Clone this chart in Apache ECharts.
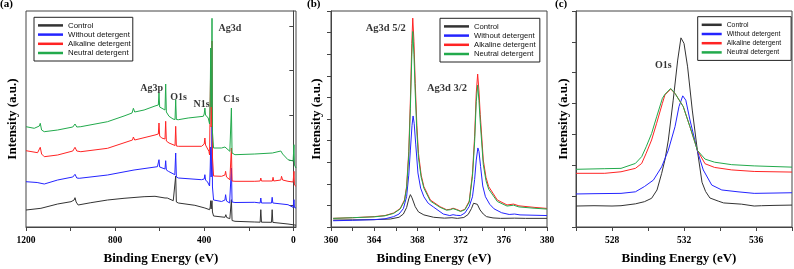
<!DOCTYPE html>
<html>
<head>
<meta charset="utf-8">
<script src="https://cdn.jsdelivr.net/npm/echarts@6/dist/echarts.min.js"></script>
<style>html,body{margin:0;padding:0;background:#fff}#c{width:794px;height:269px}</style>
</head>
<body>
<div id="c"></div>
<script>
// ---------- legend / series names ----------
const seriesNames = ['Control', 'Without detergent', 'Alkaline detergent', 'Neutral detergent'];
const seriesColors = ['#333333', '#2424ff', '#ff2424', '#22aa4c'];

// ---------- panel (a): survey spectra [binding energy eV, intensity a.u.] ----------
const surveyControl = [[1200,17],[1133,18.7],[1058,23],[998,25.3],[984,27],[980,29.3],[975,25],[966,22],[909,24.3],[834,27],[760,28.7],[670,30.3],[621,30.7],[576,29],[570,29.7],[566,29],[539,26.3],[531,25.5],[528,51],[525,25],[516,24],[442,21.7],[397,19],[376,17.3],[373,20],[371,26.3],[369,18],[367,20],[365,26.3],[363,15],[358,11],[355,10.7],[307,9.7],[303,12.3],[299,9.5],[285,8.3],[281,8],[278,27.3],[275,6.5],[262,5.7],[173,5],[149,4.8],[146,17.3],[143,4.8],[98,4.7],[95,17.3],[92,4.6],[24,3],[-12,1.8]];
const surveyWithout = [[1200,45.3],[1150,44.5],[1118,43],[1058,47],[990,50],[980,52.7],[972,49],[961,48.7],[834,52],[715,57],[610,60.3],[606,61],[603,67.3],[600,60],[594,59],[576,58],[573,66.3],[570,57],[561,55.7],[532,52.3],[531,52],[528,74],[525,50],[516,49],[412,47.3],[400,48],[397,52.3],[394,47],[385,45],[376,41],[373,60],[371,80],[369,50],[367,60],[365,101],[363,40],[358,27],[355,26],[322,25.5],[307,27],[304,32.3],[300,26],[286,24],[281,24],[278,59],[275,25],[262,24.5],[173,24.7],[149,24],[146,29],[143,24],[98,24],[95,29.7],[92,24],[24,22.3],[1,19.7],[-3,27.3],[-5,19.5],[-12,19]];
const surveyAlkaline = [[1200,76.3],[1148,74.3],[1140,76],[1136,79.7],[1130,73],[1118,70.3],[1058,72],[990,76],[980,79.7],[972,76],[954,75.3],[834,78.7],[722,87],[718,90],[712,87],[621,92],[606,93],[603,104],[600,91],[591,89],[576,88],[573,105.7],[570,86],[558,84],[531,81.5],[528,100.7],[525,81],[516,80.7],[412,80.7],[400,83],[397,89],[394,82],[379,75.7],[376,72],[373,130],[371,160],[369,100],[367,110],[365,186],[363,70],[358,51],[355,49],[322,50.7],[307,52],[304,55.7],[300,50],[285,47.3],[281,47],[278,79],[275,46],[262,45.7],[173,45.7],[149,46],[146,49],[143,46],[94,46],[91,49.7],[88,46],[56,47],[53,50.7],[48,47],[24,45.7],[1,45],[-3,55.7],[-5,42],[-12,40.7]];
const surveyNeutral = [[1200,100.3],[1163,98.7],[1140,101],[1136,103.7],[1130,97],[1118,95.3],[1058,97],[990,100],[980,103],[972,100],[954,100.3],[834,105.3],[760,111],[724,114],[718,118.7],[712,115],[670,117],[621,121],[606,122],[603,134],[600,120],[594,119],[576,117],[573,143],[570,115],[558,110.7],[540,108],[531,107.5],[528,127.3],[525,107.5],[516,107.3],[472,109],[404,110.7],[400,113],[397,119],[394,112],[382,109],[376,103],[373,130],[371,179],[369,120],[367,130],[365,208.7],[363,95],[358,79],[355,77.3],[322,79],[307,80],[304,81.3],[300,78],[285,75.7],[281,75.5],[278,119],[275,74],[262,72.3],[173,73],[94,74],[91,75],[88,74],[56,76],[53,77.3],[48,73],[24,67.3],[1,66],[-3,82.3],[-5,62],[-12,59]];

// ---------- panel (b): Ag3d ----------
const agControl = [[360.2,3.2],[362,3.3],[364,3.4],[365.5,3.7],[366.3,4.5],[366.7,6.0],[367.0,9.0],[367.2,13.0],[367.35,15.0],[367.5,13.5],[367.8,9.4],[368.1,7.0],[368.6,5.6],[369.5,4.5],[370.5,4.1],[371.2,4.3],[371.7,4.0],[372.3,4.4],[372.7,5.8],[373.0,8.5],[373.2,11.0],[373.35,11.8],[373.55,10.5],[373.8,7.9],[374.1,6.0],[374.4,4.8],[375.0,4.2],[375.7,4.0],[377,4.1],[378,4.0],[380,4.0]];
const agWithout = [[360.2,2.9],[362,3.1],[364,3.4],[365,3.8],[365.8,4.8],[366.3,6.0],[366.7,8.5],[367.0,14.0],[367.2,24],[367.35,35.6],[367.5,47],[367.6,51.4],[367.7,48],[367.85,38],[368.05,25],[368.3,18],[368.6,14],[369.0,11],[369.5,9.2],[370.4,6.0],[371.0,5.3],[371.3,5.7],[371.6,5.4],[372.0,5.3],[372.4,6.5],[372.8,9.5],[373.1,14],[373.3,22],[373.45,31],[373.6,36.6],[373.7,35],[373.85,28],[374.05,19],[374.3,14],[374.7,10.5],[375.1,8.4],[375.8,6.6],[376.5,5.8],[377,6.0],[377.5,5.6],[380,5.3]];
const agAlkaline = [[360.2,4.0],[362,4.3],[364,4.8],[365,5.3],[365.8,6.5],[366.4,8.5],[366.8,12.5],[367.0,18.7],[367.2,35],[367.35,58.8],[367.48,85],[367.57,96.7],[367.68,86],[367.8,66.5],[367.95,47],[368.1,34.1],[368.35,24],[368.6,18.7],[369.2,12.5],[370.1,9.4],[370.7,8.0],[371.05,8.2],[371.3,8.7],[371.6,8.2],[372.0,7.4],[372.4,8.2],[372.8,12],[373.1,24.8],[373.3,42],[373.45,62],[373.58,70.8],[373.7,63],[373.82,52],[374.1,31],[374.35,23],[374.6,18.7],[375.4,12.5],[376.3,10.2],[376.9,10.6],[377.4,9.8],[378.8,9.1],[380,8.6]];
const agNeutral = [[360.2,4.0],[362,4.3],[364,4.7],[365,5.2],[365.8,6.3],[366.4,8.3],[366.8,12],[367.0,18],[367.2,33],[367.35,55],[367.48,79],[367.57,90.5],[367.68,80],[367.8,62],[367.95,44],[368.1,32],[368.35,23],[368.6,18],[369.2,12],[370.1,9.1],[370.7,7.8],[371.05,8.0],[371.3,8.5],[371.6,8.0],[372.0,7.2],[372.4,8.0],[372.8,11.5],[373.1,23.5],[373.3,39.5],[373.45,58],[373.58,65.7],[373.7,58.5],[373.82,48.5],[374.1,29],[374.35,21.5],[374.6,17.5],[375.4,11.8],[376.3,9.7],[376.9,10.1],[377.4,9.3],[378.8,8.7],[380,8.3]];

// ---------- panel (c): O1s ----------
const o1sControl = [[526.0,6.8],[527,6.9],[528,6.8],[528.5,6.9],[529.3,7.5],[529.8,8.2],[530.2,9.3],[530.5,12],[530.76,17.4],[530.95,22],[531.13,28.2],[531.4,41.1],[531.65,54.1],[531.83,61.3],[532.0,59.5],[532.2,51.9],[532.46,37.9],[532.75,24.5],[533.0,14.5],[533.2,11.5],[533.44,9.4],[533.9,8.4],[534.2,7.8],[535.2,7.4],[535.9,6.8],[536.3,6.9],[537,7.0],[538,7.1]];
const o1sWithout = [[526,10.7],[527,10.8],[528.5,10.9],[529.3,11.4],[529.8,13.1],[530.3,15.2],[530.76,19.5],[531.13,24.9],[531.5,32.5],[531.72,39],[531.93,42.5],[532.1,41.1],[532.33,34.7],[532.75,24.5],[533.07,18.5],[533.54,13.6],[534.1,12.0],[535.0,11.4],[535.9,10.9],[537,11.0],[538,11.1]];
const o1sAlkaline = [[526,17.4],[527.6,17.4],[528.5,17.9],[529.3,19],[529.65,20.6],[529.9,23.9],[530.2,28.2],[530.48,33.6],[530.8,40.1],[530.94,42.8],[531.26,44.7],[531.5,43.3],[531.96,39],[532.33,32.5],[532.75,24.8],[533.17,20.5],[533.7,19.3],[534.65,18.5],[535.9,18.0],[538,17.8]];
const o1sNeutral = [[526,18.7],[527.6,18.9],[528.5,19.0],[529.3,20.6],[529.65,22.8],[529.9,26],[530.2,30.3],[530.48,35.7],[530.8,41.7],[530.94,43],[531.26,44.9],[531.5,43.3],[531.96,39],[532.33,32.5],[532.75,24.8],[533.17,22],[533.7,21],[534.65,20.2],[535.9,19.8],[538,19.4]];

// ---------- peak annotations [eV, intensity, text] ----------
const notesA = [[285,199,'Ag3d'],[636,139,'Ag3p'],[515,130,'O1s'],[412,123,'N1s'],[278,127.5,'C1s']];
const notesB = [[365.07,92,'Ag3d 5/2'],[370.74,64.2,'Ag3d 3/2']];
const notesC = [[530.85,52.5,'O1s']];

// ---------- tick values ----------
const surveyTickLabels = [0, 400, 800, 1200];
const surveyTicks = [0, 200, 400, 600, 800, 1000, 1200];
const surveyYTicks = [22, 67, 112, 157, 201];

const panelLetters = ['(a)', '(b)', '(c)'];

const serif = 'Liberation Serif';
const sans = 'Liberation Sans';
const axisColor = '#444';

function lineSeries(i, data, idx) {
  return {
    type: 'line', name: seriesNames[i], data: data, xAxisIndex: idx, yAxisIndex: idx,
    showSymbol: false, symbol: 'none', silent: true, animation: false,
    lineStyle: { width: 1, color: seriesColors[i] }, itemStyle: { color: seriesColors[i] }
  };
}
function noteSeries(notes, idx, size) {
  return {
    type: 'scatter', name: 'notes' + idx, xAxisIndex: idx, yAxisIndex: idx, silent: true, animation: false,
    symbolSize: 0,
    data: notes.map(n => ({ value: [n[0], n[1]], name: n[2] })),
    label: { show: true, position: 'inside', formatter: '{b}', fontFamily: serif, fontWeight: 'bold', fontSize: size, color: '#000' }
  };
}
function legendAt(left, top, itemW, fontSize, padRight) {
  return {
    data: seriesNames, orient: 'vertical', left: left, top: top, icon: 'rect',
    itemWidth: itemW, itemHeight: 2.5, itemGap: 0, selectedMode: false,
    padding: [3.5, padRight, 3.4, 4], borderColor: '#222', borderWidth: 1, backgroundColor: '#fff',
    itemStyle: { borderWidth: 0 },
    textStyle: { fontFamily: sans, fontSize: fontSize, color: '#111', lineHeight: 9.2 }
  };
}
const axisNameStyle = { fontFamily: serif, fontWeight: 'bold', fontSize: 13, color: '#000' };
const labelStyle = { fontFamily: serif, fontWeight: 'bold', fontSize: 9.5, color: '#000', margin: 9 };
const lineStyleAxis = { show: true, lineStyle: { color: axisColor, width: 1 } };
const tickStyle = { show: true, inside: false, length: 4, lineStyle: { color: axisColor, width: 1 } };

const grids = [
  { left: 26, top: 11, width: 270, height: 216 },
  { left: 331, top: 11, width: 216, height: 216 },
  { left: 576, top: 11, width: 216, height: 216 }
].map(g => Object.assign(g, { show: true, borderColor: axisColor, borderWidth: 1, backgroundColor: 'transparent', containLabel: false, outerBoundsMode: 'none' }));

const xAxes = [
  { gridIndex: 0, type: 'value', inverse: true, min: -12, max: 1200,
    name: 'Binding Energy (eV)', nameLocation: 'middle', nameGap: 25, nameTextStyle: axisNameStyle,
    axisLine: lineStyleAxis, axisTick: Object.assign({}, tickStyle, { customValues: surveyTicks }),
    axisLabel: Object.assign({}, labelStyle, { customValues: surveyTickLabels, formatter: v => String(v) }), splitLine: { show: false } },
  { gridIndex: 1, type: 'value', min: 360, max: 380, interval: 2,
    name: 'Binding Energy (eV)', nameLocation: 'middle', nameGap: 25, nameTextStyle: Object.assign({}, axisNameStyle, { padding: [0, 10, 0, 0] }),
    axisLine: lineStyleAxis, axisTick: tickStyle,
    axisLabel: Object.assign({}, labelStyle, { formatter: v => (v % 4 === 0 ? String(v) : '') }), splitLine: { show: false } },
  { gridIndex: 2, type: 'value', min: 526, max: 538, interval: 2,
    name: 'Binding Energy (eV)', nameLocation: 'middle', nameGap: 25, nameTextStyle: Object.assign({}, axisNameStyle, { padding: [0, 10, 0, 0] }),
    axisLine: lineStyleAxis, axisTick: tickStyle,
    axisLabel: Object.assign({}, labelStyle, { formatter: v => ((v - 528) % 4 === 0 ? String(v) : '') }), splitLine: { show: false } }
];
const yAxes = [
  { gridIndex: 0, type: 'value', min: 0, max: 216,
    name: 'Intensity (a.u.)', nameLocation: 'middle', nameRotate: 90, nameGap: 7, nameTextStyle: axisNameStyle,
    axisLine: lineStyleAxis, axisTick: Object.assign({}, tickStyle, { customValues: surveyYTicks }),
    axisLabel: { show: false }, splitLine: { show: false } },
  { gridIndex: 1, type: 'value', min: 0, max: 100, interval: 10,
    name: 'Intensity (a.u.)', nameLocation: 'middle', nameRotate: 90, nameGap: 8, nameTextStyle: axisNameStyle,
    axisLine: lineStyleAxis, axisTick: tickStyle, axisLabel: { show: false }, splitLine: { show: false } },
  { gridIndex: 2, type: 'value', min: 0, max: 70, interval: 10,
    name: 'Intensity (a.u.)', nameLocation: 'middle', nameRotate: 90, nameGap: 5.5, nameTextStyle: axisNameStyle,
    axisLine: lineStyleAxis, axisTick: tickStyle, axisLabel: { show: false }, splitLine: { show: false } }
];

const panelData = [
  [surveyControl, surveyWithout, surveyAlkaline, surveyNeutral],
  [agControl, agWithout, agAlkaline, agNeutral],
  [o1sControl, o1sWithout, o1sAlkaline, o1sNeutral]
];
const series = [];
panelData.forEach((set, idx) => set.forEach((d, i) => series.push(lineSeries(i, d, idx))));
series.push(noteSeries(notesA, 0, 10));
series.push(noteSeries(notesB, 1, 10.5));
series.push(noteSeries(notesC, 2, 10));

const titleLefts = [0, 307, 555];
const option = {
  animation: false,
  backgroundColor: '#fff',
  title: panelLetters.map((t, i) => ({ text: t, left: titleLefts[i], top: -1, padding: 0,
    textStyle: { fontFamily: serif, fontWeight: 'bold', fontSize: 11, color: '#000' } })),
  legend: [legendAt(34, 17.3, 25, 7.85, 2), legendAt(440, 18.3, 25, 7.7, 4.3), legendAt(697.7, 16.7, 20, 6.8, 10)],
  grid: grids,
  xAxis: xAxes,
  yAxis: yAxes,
  series: series
};
const chart = echarts.init(document.getElementById('c'), null, { renderer: 'canvas' });
chart.setOption(option);
</script>
</body>
</html>
